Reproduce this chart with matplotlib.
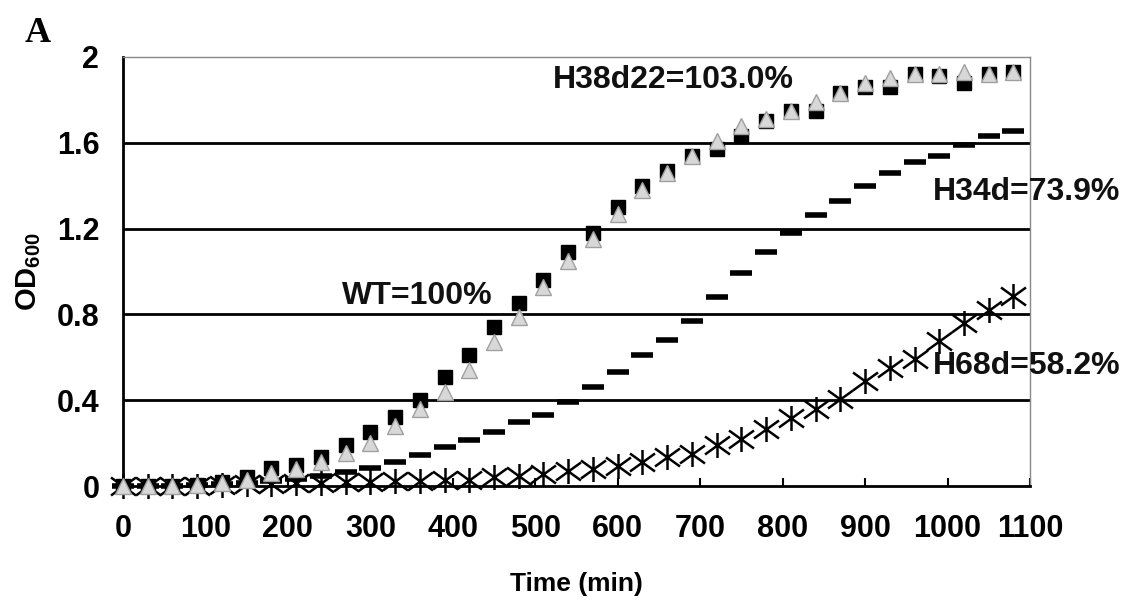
import numpy as np
import matplotlib.pyplot as plt
from matplotlib.path import Path

plt.rcParams['font.family'] = ['Liberation Sans', 'DejaVu Sans']
plt.rcParams['mathtext.fontset'] = 'custom'
plt.rcParams['mathtext.rm'] = 'Liberation Sans:bold'
plt.rcParams['mathtext.default'] = 'rm'

# ---------------------------------------------------------------------------
time_min = list(range(0, 1081, 30))

wt = [0.0, 0.0, 0.0, 0.005, 0.02, 0.04, 0.085, 0.10, 0.135, 0.19, 0.25, 0.32,
      0.40, 0.51, 0.61, 0.74, 0.855, 0.96, 1.09, 1.18, 1.30, 1.40, 1.47, 1.54,
      1.57, 1.63, 1.70, 1.75, 1.75, 1.83, 1.86, 1.86, 1.92, 1.91, 1.88, 1.92, 1.93]

h38d22 = [0.0, 0.0, 0.0, 0.005, 0.015, 0.03, 0.06, 0.08, 0.11, 0.155, 0.20, 0.28,
          0.36, 0.44, 0.54, 0.67, 0.79, 0.93, 1.05, 1.15, 1.27, 1.38, 1.46, 1.54,
          1.61, 1.68, 1.71, 1.75, 1.79, 1.83, 1.88, 1.90, 1.92, 1.92, 1.93, 1.92, 1.93]

h34d = [0.0, 0.0, 0.0, 0.005, 0.01, 0.015, 0.025, 0.035, 0.045, 0.065, 0.085, 0.11,
        0.145, 0.18, 0.215, 0.25, 0.30, 0.33, 0.39, 0.46, 0.53, 0.61, 0.68, 0.77,
        0.88, 0.995, 1.09, 1.18, 1.265, 1.33, 1.40, 1.46, 1.51, 1.54, 1.59, 1.63, 1.655]

h68d = [0.0, 0.0, 0.0, 0.0, 0.005, 0.01, 0.01, 0.015, 0.015, 0.02, 0.02, 0.025,
        0.025, 0.03, 0.03, 0.04, 0.045, 0.055, 0.07, 0.08, 0.095, 0.11, 0.135, 0.15,
        0.19, 0.22, 0.265, 0.315, 0.36, 0.405, 0.49, 0.55, 0.59, 0.675, 0.76, 0.82, 0.885]

labels = ['WT=100%', 'H38d22=103.0%', 'H34d=73.9%', 'H68d=58.2%']
label_pos = [(266, 0.885), (521, 1.893), (982, 1.372), (982, 0.558)]

# asterisk marker: vertical bar plus a wide X
star = Path([(0, -1), (0, 1), (-1, -0.72), (1, 0.72), (-1, 0.72), (1, -0.72)],
            [Path.MOVETO, Path.LINETO] * 3)

# figure
# ---------------------------------------------------------------------------
fig = plt.figure(figsize=(11.29, 6.01), dpi=100)
ax = fig.add_axes([0.1089, 0.1913, 0.8034, 0.7139])

for yv in [0.4, 0.8, 1.2, 1.6]:
    ax.axhline(yv, color='black', lw=2, zorder=1)

ax.plot(time_min, h68d, ls='none', marker=star, ms=18, mfc='none', mec='black',
        mew=1.8, clip_on=False, zorder=3)
ax.plot(time_min, h34d, ls='none', marker='_', ms=16, mec='black', mew=4,
        clip_on=False, zorder=3)
ax.plot(time_min, wt, ls='none', marker='s', ms=9.5, mfc='black', mec='black',
        clip_on=False, zorder=4)
ax.plot(time_min, h38d22, ls='none', marker='^', ms=11, mfc='#d8d8d8', mec='#a0a0a0',
        mew=1, clip_on=False, zorder=5)

for txt, (tx, ty) in zip(labels, label_pos):
    ax.text(tx, ty, txt, fontsize=23, fontweight='bold', color='#111111',
            ha='left', va='center', zorder=6)

ax.set_xlim(0, 1100)
ax.set_ylim(0, 2)
ax.set_xticks(range(0, 1101, 100))
ax.set_yticks([0, 0.4, 0.8, 1.2, 1.6, 2])
ax.set_yticklabels(['0', '0.4', '0.8', '1.2', '1.6', '2'])

ax.tick_params(axis='x', direction='in', length=6, width=1.5, pad=20,
               labelsize=22)
ax.tick_params(axis='y', length=0, pad=17, labelsize=22)
for lab in ax.get_xticklabels() + ax.get_yticklabels():
    lab.set_fontweight('bold')

ax.spines['left'].set_linewidth(2)
ax.spines['bottom'].set_linewidth(2)
ax.spines['top'].set_color('#888888')
ax.spines['top'].set_linewidth(1)
ax.spines['right'].set_color('#888888')
ax.spines['right'].set_linewidth(1)

ax.set_xlabel('Time (min)', fontsize=19, fontweight='bold', labelpad=20)
ax.set_ylabel('OD$_{600}$', fontsize=21, fontweight='bold', labelpad=10)

fig.text(0.022, 0.945, 'A', fontsize=26, fontweight='bold',
         family='Liberation Serif', ha='left', va='center')

fig.savefig('out.png', dpi=100)
